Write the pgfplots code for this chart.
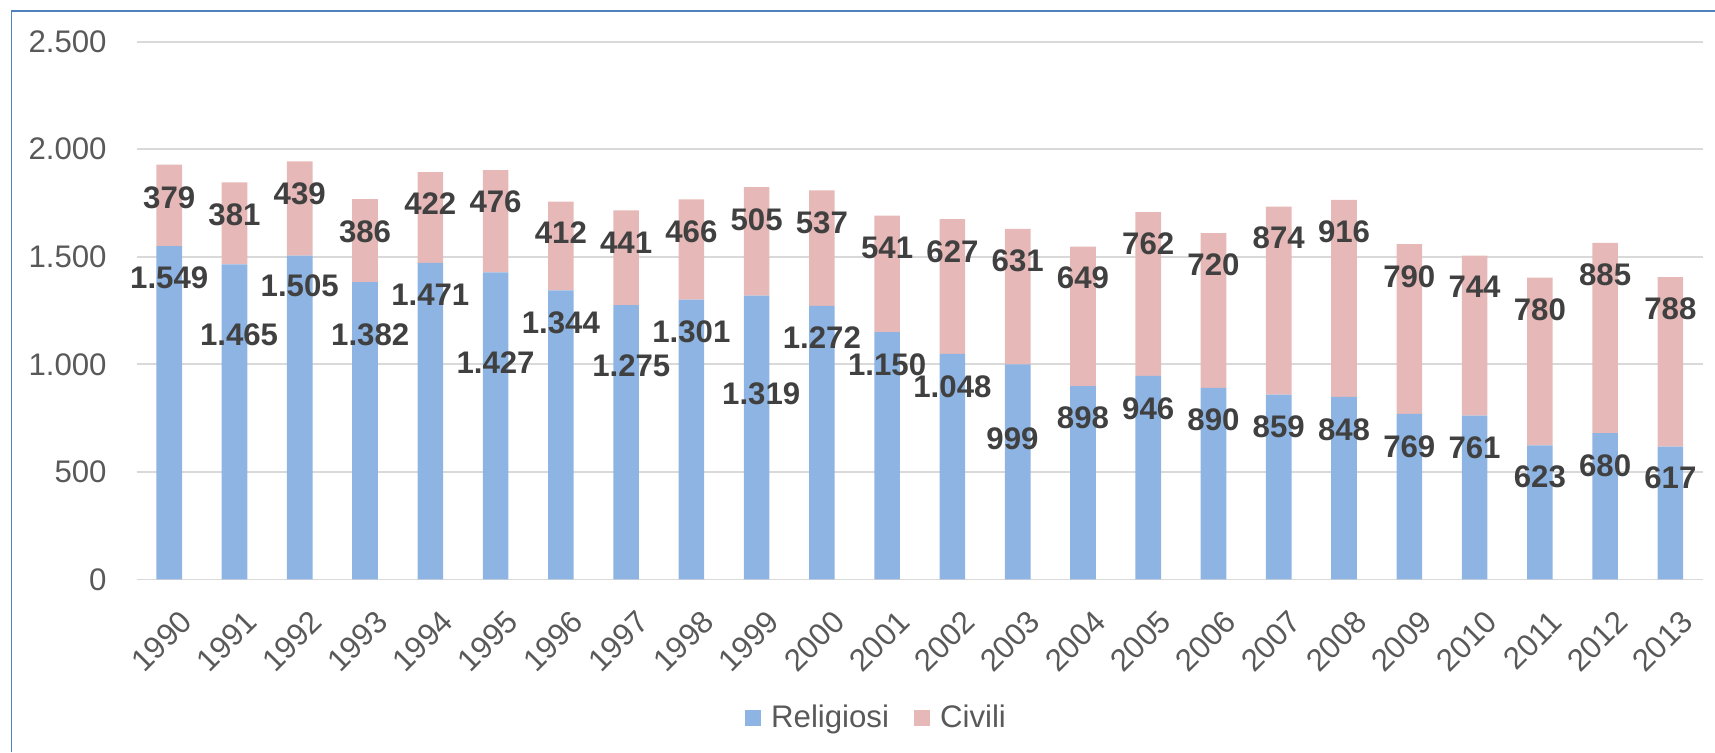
\documentclass[border=0pt]{standalone}
\usepackage{fontspec}
\setmainfont{Liberation Sans}
\usepackage{pgfplots}
\pgfplotsset{compat=1.18}
\usepackage{pgfplotstable}
\definecolor{relig}{RGB}{141,180,226}
\definecolor{civ}{RGB}{230,184,183}
\definecolor{labtxt}{RGB}{64,64,64}
\definecolor{ticktxt}{RGB}{89,89,89}
\definecolor{gridc}{RGB}{217,217,217}
\definecolor{framec}{RGB}{79,129,189}
\newcommand{\lab}{\fontsize{15.6pt}{18pt}\selectfont}
\pgfplotsset{sqlegend/.style={legend image code/.code={\fill[##1] (0pt,-4.2pt) rectangle (8pt,4.2pt); \path (11pt,0pt);}}}

% matrimoni per anno: religiosi, civili
\pgfplotstableread{
x rel civ
0 1549 379
1 1465 381
2 1505 439
3 1382 386
4 1471 422
5 1427 476
6 1344 412
7 1275 441
8 1301 466
9 1319 505
10 1272 537
11 1150 541
12 1048 627
13 999 631
14 898 649
15 946 762
16 890 720
17 859 874
18 848 916
19 769 790
20 761 744
21 623 780
22 680 885
23 617 788
}\matrimoni

% posizione delle etichette (come spostate a mano nel grafico)
\pgfplotstableread{
x y lab
0 1775 379
1 1695 381
2 1793 439
3 1616 386
4 1746 422
5 1756 476
6 1610 412
7 1566 441
8 1618 466
9 1673 505
10 1660 537
11 1541 541
12 1525 627
13 1479 631
14 1401 649
15 1562 762
16 1461 720
17 1586 874
18 1614 916
19 1407 790
20 1361 744
21 1252 780
22 1415 885
23 1260 788
0 1401 1.549
1.07 1136 1.465
2 1364 1.505
3.08 1139 1.382
4 1323 1.471
5 1010 1.427
6 1193 1.344
7.08 993 1.275
8 1153 1.301
9.07 863 1.319
10 1122 1.272
11 998 1.150
12 897 1.048
12.92 652 999
14 749 898
15 795 946
16 741 890
17 710 859
18 694 848
19 617 769
20 614 761
21 477 623
22 528 680
23 472 617
}\etichette

\begin{document}
\begin{tikzpicture}
\path[use as bounding box] (0,0) rectangle (857.5pt,376pt);
\draw[framec, line width=0.7pt] (5.75pt,0) -- (5.75pt,370.5pt) -- (857.5pt,370.5pt);
\pgfplotsset{base/.style={
  at={(68.3pt,86.35pt)}, anchor=south west, scale only axis,
  width=783.2pt, height=268.8pt,
  xmin=-0.5, xmax=23.5, ymin=0, ymax=2500}}
\begin{axis}[base, ybar stacked, bar width=12.8pt,
  axis line style={draw=none}, major tick length=0pt,
  ymajorgrids, grid style={gridc, line width=0.8pt},
  ytick={0,500,1000,1500,2000,2500},
  yticklabels={0,500,1.000,1.500,2.000,2.500},
  xtick={0,...,23},
  xticklabels={1990,1991,1992,1993,1994,1995,1996,1997,1998,1999,2000,2001,
    2002,2003,2004,2005,2006,2007,2008,2009,2010,2011,2012,2013},
  yticklabel style={font=\lab, text=ticktxt, anchor=east, inner sep=0pt, xshift=-14.8pt},
  xticklabel style={font=\lab, text=ticktxt, yshift=-14.5pt, xshift=4.5pt, rotate=45, anchor=north east, inner sep=0pt},
  legend style={at={(axis description cs:0.473,-0.258)}, anchor=center,
    draw=none, fill=none, legend columns=2, font=\lab, text=ticktxt,
    /tikz/every even column/.append style={column sep=10.5pt}},
]
\addplot[fill=relig, draw=none, sqlegend] table[x=x, y=rel] {\matrimoni};
\addplot[fill=civ, draw=none, sqlegend] table[x=x, y=civ] {\matrimoni};
\legend{Religiosi, Civili}
\end{axis}
\begin{axis}[base, hide axis]
\addplot[draw=none, mark=none, nodes near coords, point meta=explicit symbolic,
  every node near coord/.append style={anchor=center, font=\bfseries\lab, text=labtxt, inner sep=0pt}]
  table[x=x, y=y, meta=lab] {\etichette};
\end{axis}
\end{tikzpicture}
\end{document}
